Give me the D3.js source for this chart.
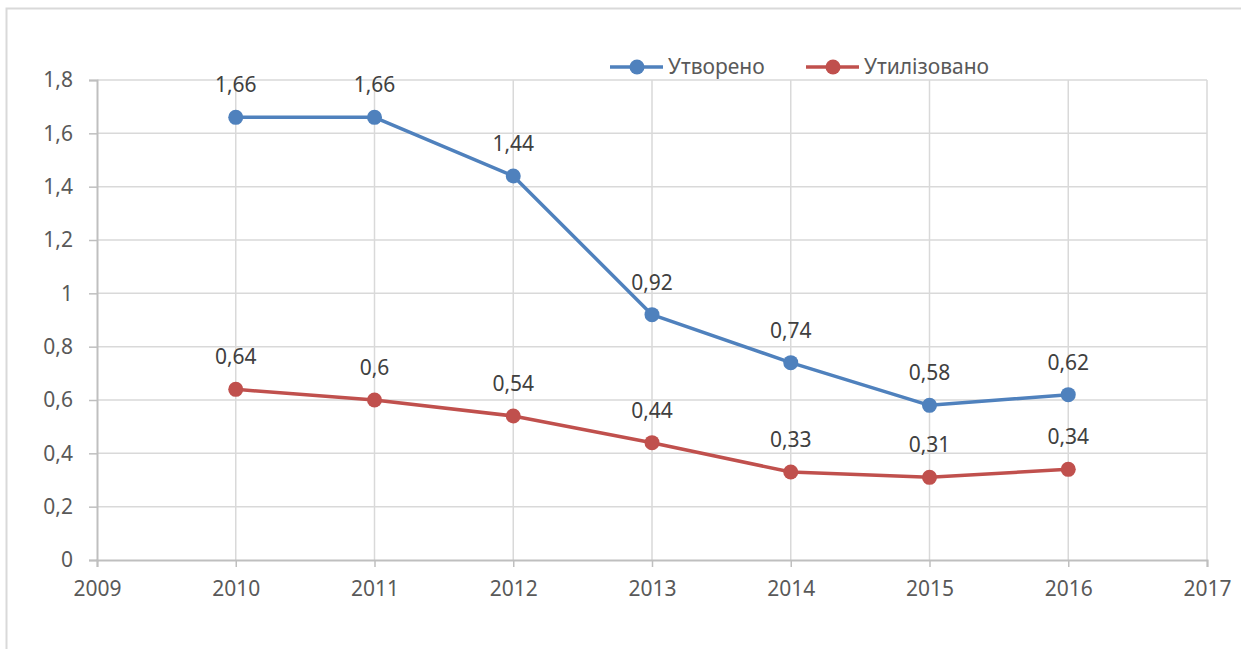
<!DOCTYPE html>
<html>
<head>
<meta charset="utf-8">
<script src="https://d3js.org/d3.v7.min.js"></script>
<style>
    body { margin: 0; background: #ffffff; }
    text { font-family: "Noto Sans", "Open Sans", sans-serif; fill: #595959; }
    .grid line { stroke: #d9d9d9; stroke-width: 1.5px; }
    .tick-label { font-size: 21px; }
    .data-label { font-size: 21px; fill: #404040; }
    .legend-label { font-size: 21px; }
</style>
</head>
<body>
<div id="container"></div>
<script>
    // data
    const years = [2010, 2011, 2012, 2013, 2014, 2015, 2016];
    const created = [1.66, 1.66, 1.44, 0.92, 0.74, 0.58, 0.62];
    const utilized = [0.64, 0.6, 0.54, 0.44, 0.33, 0.31, 0.34];
    const xTicks = [2009, 2010, 2011, 2012, 2013, 2014, 2015, 2016, 2017];
    const yTicks = [0, 0.2, 0.4, 0.6, 0.8, 1, 1.2, 1.4, 1.6, 1.8];
    const seriesNames = ["Утворено", "Утилізовано"];
    const colors = ["#4f81bd", "#c0504d"];

    const W = 1241, H = 649;
    const margin = {top: 80, right: 34, bottom: 89, left: 97};

    const svg = d3.select("#container")
        .append("svg")
        .attr("width", W)
        .attr("height", H);

    // outer frame (right and bottom edges fall outside the picture)
    svg.append("rect")
        .attr("x", 6.5).attr("y", 8.5)
        .attr("width", W + 20).attr("height", H + 20)
        .attr("fill", "none")
        .attr("stroke", "#d9d9d9")
        .attr("stroke-width", 2);

    const x = d3.scaleLinear()
        .domain([2009, 2017])
        .range([margin.left, W - margin.right]);

    const y = d3.scaleLinear()
        .domain([0, 1.8])
        .range([H - margin.bottom, margin.top]);

    const fmt = v => String(v).replace(".", ",");

    // grid
    const grid = svg.append("g").attr("class", "grid");
    grid.selectAll(".hg")
        .data(yTicks.filter(d => d > 0))
        .enter().append("line")
        .attr("x1", x(2009)).attr("x2", x(2017))
        .attr("y1", d => y(d)).attr("y2", d => y(d));
    grid.selectAll(".vg")
        .data(xTicks.filter(d => d > 2009))
        .enter().append("line")
        .attr("x1", d => x(d)).attr("x2", d => x(d))
        .attr("y1", y(1.8)).attr("y2", y(0));

    // y axis
    const yAxis = svg.append("g")
        .attr("transform", "translate(" + x(2009) + ",0)")
        .call(d3.axisLeft(y).tickValues(yTicks).tickSize(8).tickPadding(16).tickFormat(fmt));
    yAxis.select(".domain").attr("stroke", "#bfbfbf").attr("stroke-width", 2);
    yAxis.selectAll(".tick line").attr("stroke", "#bfbfbf").attr("stroke-width", 1.5);
    yAxis.selectAll(".tick text").attr("class", "tick-label").attr("fill", "#595959");

    // x axis
    const xAxis = svg.append("g")
        .attr("transform", "translate(0," + y(0) + ")")
        .call(d3.axisBottom(x).tickValues(xTicks).tickSize(7).tickPadding(14).tickFormat(d3.format("d")));
    xAxis.select(".domain").attr("stroke", "#bfbfbf").attr("stroke-width", 2);
    xAxis.selectAll(".tick line").attr("stroke", "#bfbfbf").attr("stroke-width", 1.5);
    xAxis.selectAll(".tick text").attr("class", "tick-label").attr("fill", "#595959");

    const line = d3.line()
        .x((d, i) => x(years[i]))
        .y(d => y(d));

    [created, utilized].forEach((values, s) => {
        const g = svg.append("g");
        g.append("path")
            .datum(values)
            .attr("d", line)
            .attr("fill", "none")
            .attr("stroke", colors[s])
            .attr("stroke-width", 3.5)
            .attr("stroke-linejoin", "round");
        g.selectAll("circle")
            .data(values)
            .enter().append("circle")
            .attr("cx", (d, i) => x(years[i]))
            .attr("cy", d => y(d))
            .attr("r", 7.5)
            .attr("fill", colors[s]);
        g.selectAll(".data-label")
            .data(values)
            .enter().append("text")
            .attr("class", "data-label")
            .attr("x", (d, i) => x(years[i]))
            .attr("y", d => y(d) - 25)
            .attr("text-anchor", "middle")
            .text(fmt);
    });

    // legend
    const legendX = [610, 806];
    seriesNames.forEach((name, s) => {
        const lg = svg.append("g").attr("transform", "translate(" + legendX[s] + ",67)");
        lg.append("line")
            .attr("x1", 0).attr("x2", 53)
            .attr("y1", 0).attr("y2", 0)
            .attr("stroke", colors[s])
            .attr("stroke-width", 3.5);
        lg.append("circle")
            .attr("cx", 27).attr("cy", 0).attr("r", 7.5)
            .attr("fill", colors[s]);
        lg.append("text")
            .attr("class", "legend-label")
            .attr("x", 58).attr("y", 0)
            .attr("dy", "0.35em")
            .text(name);
    });
</script>
</body>
</html>
